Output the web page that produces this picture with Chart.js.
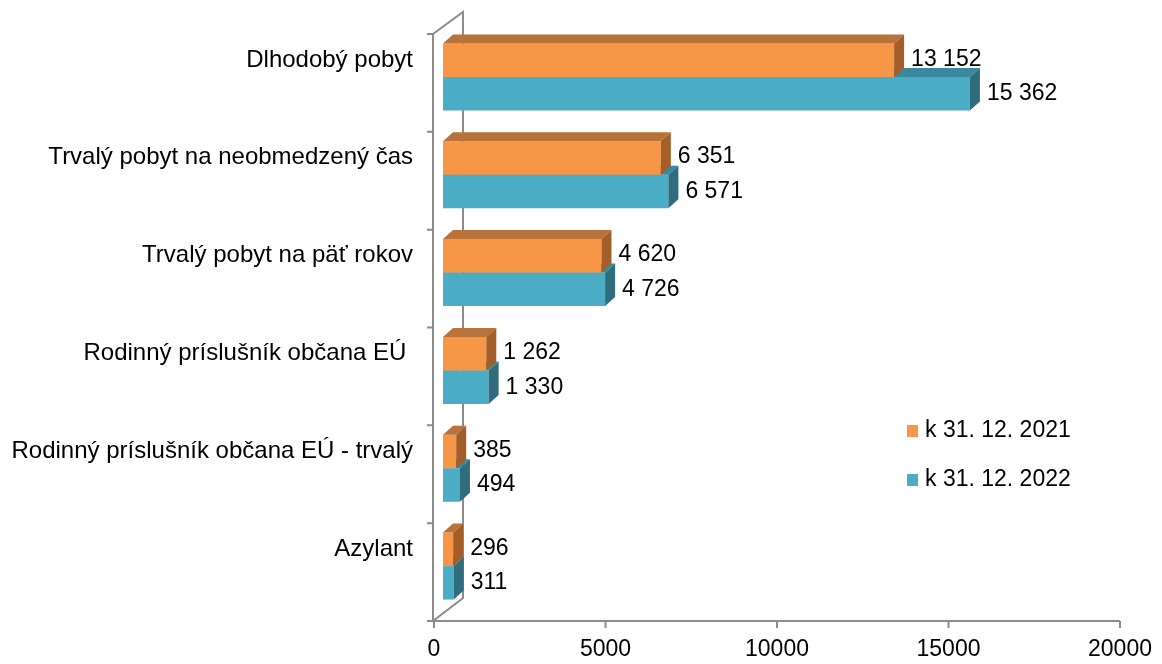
<!DOCTYPE html>
<html>
<head>
<meta charset="utf-8">
<script src="https://cdn.jsdelivr.net/npm/chart.js@4/dist/chart.umd.min.js"></script>
<style>
	body { margin: 0; background: #fff; }
	#box { width: 1162px; height: 664px; }
</style>
</head>
<body>
<div id="box"><canvas id="grafica"></canvas></div>
<script>
const kategorie = ['Dlhodobý pobyt', 'Trvalý pobyt na neobmedzený čas', 'Trvalý pobyt na päť rokov', 'Rodinný príslušník občana EÚ ', 'Rodinný príslušník občana EÚ - trvalý', 'Azylant'];
const hodnoty2021 = [13152, 6351, 4620, 1262, 385, 296];
const hodnoty2022 = [15362, 6571, 4726, 1330, 494, 311];
const nazvy = ['k 31. 12. 2021', 'k 31. 12. 2022'];
const osX = [0, 5000, 10000, 15000, 20000];

const pismo = '"Liberation Sans", Arial, sans-serif';
const sivá = '#8c8c8c';
const farby = [
	{ front: '#F79646', top: '#B8733A', side: '#A45E27' },
	{ front: '#4BACC6', top: '#3A889D', side: '#2E6C7E' }
];
const hlbka = { dx: 10, dy: -9 };

function formatuj(n) {
	return String(n).replace(/\B(?=(\d{3})+(?!\d))/g, ' ');
}

// steny a osi
const steny = {
	id: 'steny',
	beforeDatasetsDraw(chart) {
		const ctx = chart.ctx;
		const ca = chart.chartArea;
		const x = chart.scales.x;
		const pas = (ca.bottom - ca.top) / kategorie.length;
		ctx.save();
		ctx.strokeStyle = sivá;
		ctx.lineWidth = 2;
		const fx = ca.left - 10, bx = ca.left + 20;
		const fTop = ca.top + 6, fBot = ca.bottom + 6;
		ctx.beginPath();
		ctx.moveTo(fx, fTop); ctx.lineTo(fx, fBot);
		ctx.moveTo(fx, fTop); ctx.lineTo(bx, fTop - 22);
		ctx.lineTo(bx, fBot - 23);
		ctx.lineTo(fx, fBot);
		ctx.stroke();
		// ticky vlavo
		ctx.beginPath();
		for (let i = 0; i <= kategorie.length; i++) {
			let ty = fTop + i * pas;
			ctx.moveTo(fx - 6, ty); ctx.lineTo(fx, ty);
		}
		ctx.stroke();
		// os x
		ctx.beginPath();
		ctx.moveTo(fx - 4, fBot); ctx.lineTo(x.getPixelForValue(20000) - 9, fBot);
		for (let v of osX) {
			let tx = x.getPixelForValue(v) - 9;
			ctx.moveTo(tx, fBot); ctx.lineTo(tx, fBot + 7);
		}
		ctx.stroke();
		ctx.restore();
	}
};

// 3D strany stlpcov
const hlbka3d = {
	id: 'hlbka3d',
	afterDatasetDraw(chart, args) {
		const ctx = chart.ctx;
		const f = farby[args.index];
		ctx.save();
		args.meta.data.forEach(function (bar) {
			const p = bar.getProps(['x', 'y', 'base', 'height'], true);
			const x0 = p.base, x1 = p.x;
			const y0 = p.y - p.height / 2, y1 = p.y + p.height / 2;
			ctx.fillStyle = f.top;
			ctx.beginPath();
			ctx.moveTo(x0, y0); ctx.lineTo(x1, y0);
			ctx.lineTo(x1 + hlbka.dx, y0 + hlbka.dy); ctx.lineTo(x0 + hlbka.dx, y0 + hlbka.dy);
			ctx.closePath(); ctx.fill();
			ctx.fillStyle = f.side;
			ctx.beginPath();
			ctx.moveTo(x1, y0); ctx.lineTo(x1 + hlbka.dx, y0 + hlbka.dy);
			ctx.lineTo(x1 + hlbka.dx, y1 + hlbka.dy); ctx.lineTo(x1, y1);
			ctx.closePath(); ctx.fill();
		});
		ctx.restore();
	}
};

// popisky hodnot a legenda
const popisky = {
	id: 'popisky',
	afterDraw(chart) {
		const ctx = chart.ctx;
		ctx.save();
		ctx.font = '23px ' + pismo;
		ctx.fillStyle = '#000';
		ctx.textAlign = 'left';
		ctx.textBaseline = 'middle';
		chart.data.datasets.forEach(function (ds, i) {
			chart.getDatasetMeta(i).data.forEach(function (bar, j) {
				ctx.fillText(formatuj(ds.data[j]), bar.x + 17, bar.y - (i === 0 ? 1 : 0));
			});
		});
		nazvy.forEach(function (n, i) {
			let ly = 431 + i * 49;
			ctx.fillStyle = farby[i].front;
			ctx.fillRect(907, ly - 6, 11, 12);
			ctx.fillStyle = '#000';
			ctx.fillText(n, 925, ly);
		});
		ctx.restore();
	}
};

new Chart(document.getElementById('grafica'), {
	type: 'bar',
	data: {
		labels: kategorie,
		datasets: [
			{ label: nazvy[0], data: hodnoty2021, backgroundColor: farby[0].front, borderWidth: 0 },
			{ label: nazvy[1], data: hodnoty2022, backgroundColor: farby[1].front, borderWidth: 0 }
		]
	},
	options: {
		indexAxis: 'y',
		responsive: true,
		maintainAspectRatio: false,
		animation: false,
		layout: { padding: { top: 28, right: 33, left: 0, bottom: 0 } },
		datasets: { bar: { categoryPercentage: 0.685, barPercentage: 1 } },
		plugins: { legend: { display: false }, tooltip: { enabled: false } },
		scales: {
			x: {
				min: 0, max: 20000,
				afterBuildTicks(scale) { scale.ticks = osX.map(v => ({ value: v })); },
				afterFit(scale) { scale.height = 49; scale.paddingLeft = 0; scale.paddingRight = 0; },
				grid: { display: false, drawTicks: false },
				border: { display: false },
				ticks: {
					color: '#000', font: { family: pismo, size: 23 }, padding: 21, labelOffset: -9,
					maxRotation: 0, autoSkip: false,
					callback: function (v) { return String(v); }
				}
			},
			y: {
				afterFit(scale) { scale.width = 443; scale.paddingTop = 0; scale.paddingBottom = 0; },
				grid: { display: false, drawTicks: false },
				border: { display: false },
				ticks: { color: '#000', font: { family: pismo, size: 24 }, padding: 30, labelOffset: -17 }
			}
		}
	},
	plugins: [steny, hlbka3d, popisky]
});
</script>
</body>
</html>
